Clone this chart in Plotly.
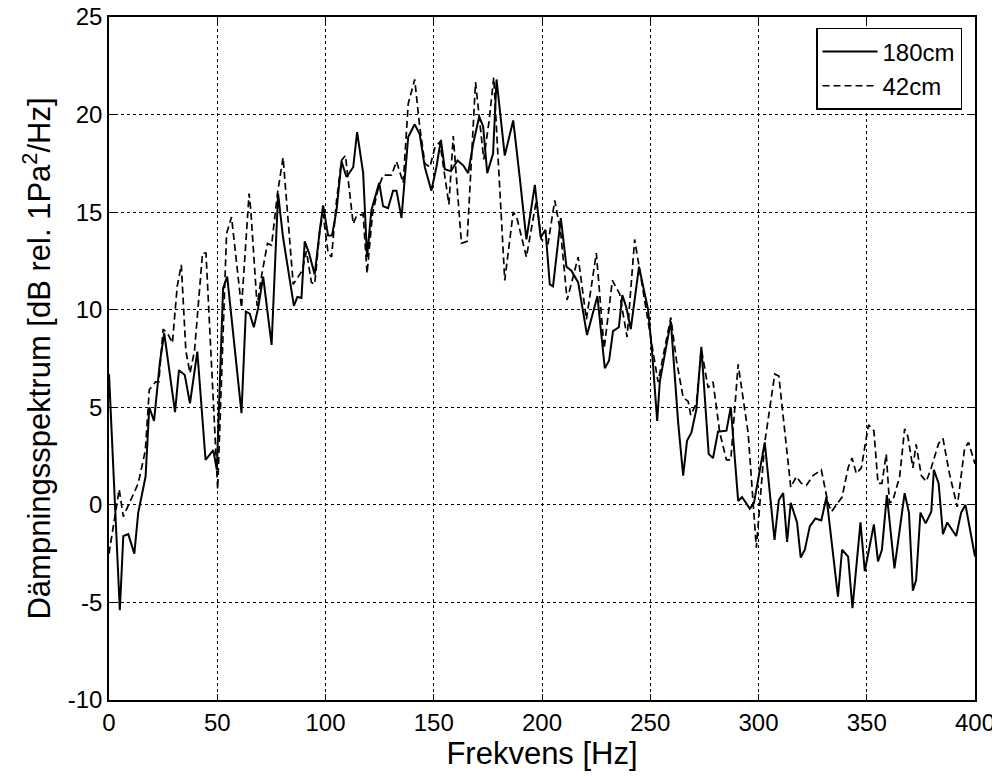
import plotly.graph_objects as go

# 180cm series (solid)
freq_180 = [0, 5, 6.6, 8.9, 11.7, 13.5, 16.9, 18.6, 20.8, 23.5, 25.5, 30.5, 32.3, 35, 37.4, 40.8,
            44.6, 48.2, 49.8, 52.7, 54.6, 61.2, 63.2, 65, 66.9, 68.9, 71.2, 75.1, 78.1, 80.4, 85.4,
            87, 88.9, 90.4, 92.4, 95, 97.4, 98.9, 101.2, 103, 105.1, 107.4, 109.7, 112.8, 114.6,
            117.4, 119.2, 121.2, 124.8, 126.6, 128.9, 131.2, 132.8, 135.1, 138.2, 141.2, 143.5,
            145.9, 148.9, 151.2, 153.3, 155.1, 157.9, 161, 163.6, 165.9, 168.2, 171, 172.8, 174.7,
            177.4, 179, 182.8, 186.7, 189.7, 192.8, 196.7, 199.4, 201.6, 203.6, 205.1, 208.7,
            211.3, 213.6, 216.7, 220.8, 225.6, 229, 231, 232.8, 235.5, 237.1, 239, 241, 244.8, 249,
            250.8, 253.2, 254.4, 259.5, 262.9, 265.2, 267, 269, 271.3, 273.6, 277, 279, 281.3,
            285.2, 287.2, 290.6, 292.4, 296, 297.9, 302.9, 307.4, 309.4, 311.4, 313.2, 314.9,
            317.8, 319.5, 321.4, 323.7, 326.3, 329, 331.4, 336.7, 338.6, 341.4, 343.4, 347.1,
            349.1, 353.3, 355.2, 357, 359.3, 362.8, 367.5, 369.5, 371.3, 372.8, 374.8, 377.2,
            379.8, 381, 383.2, 385.2, 387.2, 391.3, 393.6, 395.6, 400]
db_180 = [6.7, -5.4, -1.6, -1.5, -2.5, -0.4, 1.45, 5.0, 4.3, 7.3, 8.8, 4.75, 6.9, 6.65, 5.2, 7.85,
          2.3, 2.8, 1.8, 11.1, 11.7, 4.7, 9.9, 9.8, 9.1, 10.1, 11.7, 8.2, 15.95, 13.7, 10.2,
          10.65, 10.6, 13.5, 12.9, 11.8, 14.1, 15.35, 13.8, 13.8, 15.1, 17.6, 16.8, 17.3, 19.1,
          17.0, 12.7, 15.1, 16.5, 15.3, 15.2, 16.1, 16.1, 14.7, 18.85, 19.5, 19.0,
          17.3, 16.1, 17.3, 18.7, 17.2, 17.1, 17.65, 17.4, 17.0, 18.5, 19.9, 19.4, 17.0,
          18.0, 21.8, 17.9, 19.7, 16.8, 13.6, 16.4, 13.7, 14.1, 11.3, 11.2, 14.7,
          12.2, 12.0, 11.4, 8.7, 10.7, 7.0, 7.4, 8.9, 9.1, 10.75, 10.1, 9.0, 12.2, 10.0,
          7.9, 4.3, 6.3, 9.4, 4.2, 1.5, 3.3, 3.7, 4.9, 8.1, 2.6, 2.4, 3.75,
          3.8, 5.0, 0.2, 0.4, -0.2, 0.1, 3.2, -1.8, 0.25, 0.6, -1.9, 0.1,
          -0.9, -2.7, -2.3, -1.1, -0.7, -0.8, 0.4, -4.7, -2.3, -2.65, -5.3, -0.9,
          -3.4, -1.0, -2.9, -2.3, 0.5, -3.25, 0.6, -0.4, -4.4, -3.85, -0.4, -0.95,
          -0.35, 1.8, 1.1, -1.5, -0.9, -1.6, -0.4, 0.0, -2.65]

# 42cm series (dashed)
freq_42 = [0, 4.7, 6.6, 9.5, 13.5, 16.8, 18.6, 21.5, 23, 25, 27, 29.3, 31.5, 33.4, 35.5, 37.4,
           39.5, 43.2, 44.8, 50.2, 54.3, 56.6, 61.2, 64.7, 65.5, 68.4, 70.4, 73.2, 75.1, 77.8,
           80.4, 85.1, 89.2, 91.2, 93.5, 95, 97.4, 98.9, 101.2, 102.8, 105.1, 107.4, 109.2,
           112.8, 114.3, 117.4, 119.2, 121.7, 124.3, 126.6, 130.5, 132.8, 135.9, 138.2, 141.2,
           143.5, 145.9, 148.2, 150.5, 152.8, 157, 159, 162.8, 165.4, 169.3, 173.1, 175.6,
           177.7, 182.8, 186.7, 188.2, 192.8, 197.4, 199.7, 202.8, 205.9, 208.7, 211.6, 216.7,
           220.5, 225.1, 228.7, 232.5, 235.9, 239.3, 242.8, 247.5, 250.5, 253.6, 259.5, 262.1,
           265.2, 267.5, 268.7, 271.3, 273.6, 276.7, 279, 282.1, 285.2, 287.2, 290.6, 295.2,
           299, 302.9, 307.5, 309.4, 314.9, 317.5, 319.8, 322.1, 325.2, 329, 332.1, 333.7, 336,
           338.6, 341.4, 343.2, 345.2, 347.5, 350.8, 353.3, 355.2, 357, 359, 360.5, 362, 365.2,
           367.5, 369, 371.3, 372.8, 375.2, 377.5, 379.8, 383.2, 385.2, 388.2, 391.8, 395.2,
           397, 400]
db_42 = [-2.5, 0.8, -0.6, 0.1, 1.1, 2.8, 5.9, 6.3, 6.3, 9.0, 8.8, 8.3, 11.2, 12.3, 7.9, 6.75,
         7.9, 12.9, 12.9, 0.8, 13.9, 14.75, 10.1, 15.95, 15.1, 10.2, 11.7, 13.4, 13.3, 15.95,
         17.8, 11.3, 12.0, 13.0, 11.4, 11.3, 14.1, 14.9, 12.9, 12.7, 15.6, 17.65, 17.9,
         14.4, 14.8, 14.9, 11.85, 14.9, 16.2, 16.9, 16.9, 17.6, 16.5, 20.55, 21.8,
         19.4, 17.5, 17.3, 18.3, 18.6, 15.4, 18.9, 13.4, 13.5, 21.66, 17.7, 19.7,
         21.9, 11.5, 15.0, 14.8, 12.7, 15.6, 13.6, 13.4, 15.6, 13.9, 10.5, 12.7,
         9.5, 12.9, 8.0, 11.5, 10.8, 8.6, 13.6, 10.5, 8.4, 6.3, 9.6, 7.4,
         5.5, 5.3, 4.6, 5.2, 8.0, 6.0, 6.3, 3.7, 2.3, 2.3, 7.2, 3.7,
         -2.2, 3.2, 6.7, 6.6, 0.9, 1.45, 1.1, 1.0, 1.5, 1.8, 0.1, -0.35, 0.0,
         0.4, 1.9, 2.4, 1.6, 1.9, 4.1, 3.8, 1.1, 1.1, 2.6, 0.1, 0.2, 1.45,
         3.9, 3.5, 1.9, 3.1, 1.5, 1.2, 1.9, 3.15, 3.4, 1.6, -0.1, 2.9,
         3.2, 2.1]

x_ticks = [0, 50, 100, 150, 200, 250, 300, 350, 400]
y_ticks = [-10, -5, 0, 5, 10, 15, 20, 25]

FONT = "Liberation Sans, Arial, sans-serif"

fig = go.Figure()
fig.add_trace(go.Scatter(x=freq_180, y=db_180, mode="lines", name="180cm",
                         line=dict(color="black", width=2)))
fig.add_trace(go.Scatter(x=freq_42, y=db_42, mode="lines", name="42cm",
                         line=dict(color="black", width=1.7, dash="7px,4px")))

axis_common = dict(showline=True, linecolor="black", linewidth=1.5, mirror="allticks",
                   ticks="inside", ticklen=6, tickcolor="black", tickwidth=1,
                   showgrid=True, gridcolor="black", gridwidth=1, griddash="dot",
                   zeroline=False, automargin=False, ticklabeloverflow="allow",
                   tickfont=dict(family=FONT, size=24, color="black"))

fig.update_xaxes(range=[0, 400], tickvals=x_ticks, ticktext=[str(v) for v in x_ticks],
                 title=dict(text="Frekvens [Hz]", font=dict(family=FONT, size=31, color="black"),
                            standoff=2),
                 **axis_common)
fig.update_yaxes(range=[-10, 25], tickvals=y_ticks, ticktext=[str(v) for v in y_ticks],
                 title=dict(text="Dämpningsspektrum [dB rel. 1Pa<sup>2</sup>/Hz]",
                            font=dict(family=FONT, size=31, color="black"), standoff=8),
                 **axis_common)

# page body has an 8px margin, so the figure is sized to fit inside the window
fig.update_layout(
    width=992, height=770,
    margin=dict(l=101, r=25, t=9, b=78),
    plot_bgcolor="white", paper_bgcolor="white",
    font=dict(family=FONT, color="black"),
    legend=dict(x=0.985, y=0.984, xanchor="right", yanchor="top",
                bgcolor="white", bordercolor="black", borderwidth=1.5,
                font=dict(family=FONT, size=24, color="black"),
                tracegroupgap=0, itemwidth=55),
    showlegend=True,
)

fig.write_html("out.html")
